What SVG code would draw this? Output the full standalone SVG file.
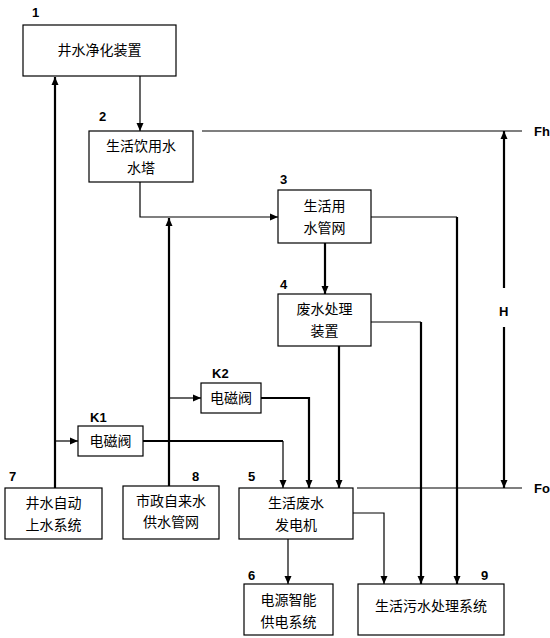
<svg xmlns="http://www.w3.org/2000/svg" width="550" height="638" viewBox="0 0 550 638">
<defs>
<marker id="ah" markerUnits="userSpaceOnUse" markerWidth="8" markerHeight="8" refX="8" refY="4" orient="auto">
<path d="M0,0.5 L8,4 L0,7.5 z" fill="#000"/>
</marker>
<style>
.box{fill:#fff;stroke:#000;stroke-width:1.2}
.t{font-family:"Noto Sans CJK SC","Liberation Sans",sans-serif;font-size:14px;text-anchor:middle;fill:#000}
.n{font-family:"Liberation Sans","DejaVu Sans",sans-serif;font-size:13px;font-weight:bold;fill:#000}
.thin{fill:none;stroke:#000;stroke-width:1.2}
.thick{fill:none;stroke:#000;stroke-width:2.2}
.arr{marker-end:url(#ah)}
</style>
</defs>
<rect width="550" height="638" fill="#fff"/>
<g id="connectors">
<path class="thin arr" d="M140,76 V131"/>
<path class="thin arr" d="M140,182 V217 H278"/>
<path class="thick arr" d="M169,486 V218"/>
<path class="thick arr" d="M55,488 V77"/>
<path class="thin arr" d="M55,441 H78"/>
<path class="thin arr" d="M169,398 H201"/>
<path class="thick" d="M143,441 H283"/>
<path class="thin arr" d="M283,441 V488"/>
<path class="thick arr" d="M261,398 H309 V488"/>
<path class="thick arr" d="M325,243 V294"/>
<path class="thick arr" d="M339,346 V488"/>
<path class="thin" d="M371,322 H421"/>
<path class="thick arr" d="M421,322 V584"/>
<path class="thin" d="M371,217 H457"/>
<path class="thick arr" d="M457,217 V584"/>
<path class="thin arr" d="M353,513 H384 V584"/>
<path class="thin arr" d="M288,539 V584"/>
<path class="thin" d="M202,131 H522"/>
<path class="thin" d="M357,488 H522"/>
<path class="thick arr" d="M504,288 V131"/>
<path class="thick arr" d="M504,327 V488"/>
</g>
<g id="n1"><rect class="box" x="23" y="25" width="153" height="51"/><text class="n" x="32" y="17">1</text><text class="t" x="99.5" y="55">井水净化装置</text></g>
<g id="n2"><rect class="box" x="89" y="131" width="104" height="51"/><text class="n" x="99" y="121">2</text><text class="t" x="141" y="151">生活饮用水</text><text class="t" x="141" y="173">水塔</text></g>
<g id="n3"><rect class="box" x="278" y="190" width="93" height="53"/><text class="n" x="280" y="184">3</text><text class="t" x="324.5" y="211">生活用</text><text class="t" x="324.5" y="233">水管网</text></g>
<g id="n4"><rect class="box" x="278" y="294" width="93" height="52"/><text class="n" x="280" y="289">4</text><text class="t" x="324.5" y="314">废水处理</text><text class="t" x="324.5" y="336">装置</text></g>
<g id="n5"><rect class="box" x="239" y="488" width="114" height="51"/><text class="n" x="248" y="481">5</text><text class="t" x="296" y="508">生活废水</text><text class="t" x="296" y="530">发电机</text></g>
<g id="n6"><rect class="box" x="244" y="584" width="89" height="51"/><text class="n" x="248" y="580">6</text><text class="t" x="288.5" y="605">电源智能</text><text class="t" x="288.5" y="627">供电系统</text></g>
<g id="n7"><rect class="box" x="5" y="488" width="97" height="51"/><text class="n" x="9" y="481">7</text><text class="t" x="53.5" y="508">井水自动</text><text class="t" x="53.5" y="530">上水系统</text></g>
<g id="n8"><rect class="box" x="123" y="486" width="96" height="53"/><text class="n" x="192" y="481">8</text><text class="t" x="171" y="506">市政自来水</text><text class="t" x="171" y="527">供水管网</text></g>
<g id="n9"><rect class="box" x="358" y="584" width="146" height="51"/><text class="n" x="481" y="580">9</text><text class="t" x="431" y="611">生活污水处理系统</text></g>
<g id="k1"><rect class="box" x="78" y="426" width="65" height="30"/><text class="n" x="90" y="422">K1</text><text class="t" x="110.5" y="446">电磁阀</text></g>
<g id="k2"><rect class="box" x="201" y="383" width="60" height="30"/><text class="n" x="212" y="378">K2</text><text class="t" x="231" y="403">电磁阀</text></g>
<g id="labels"><text class="n" x="534" y="136">Fh</text><text class="n" x="534" y="493">Fo</text><text class="n" x="499" y="316">H</text></g>
</svg>
